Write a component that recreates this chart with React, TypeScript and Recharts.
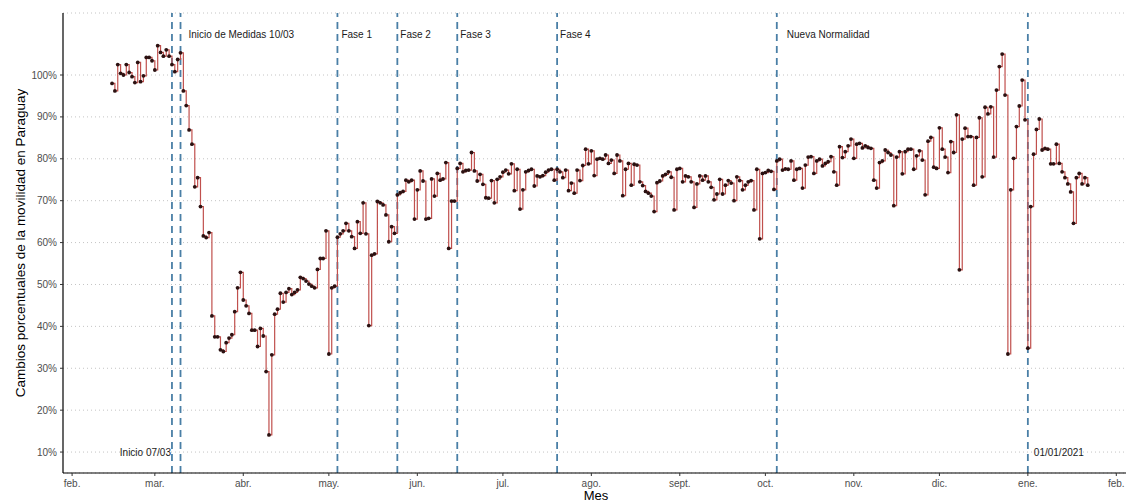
import React from 'react';
import { LineChart, Line, XAxis, YAxis, CartesianGrid, ReferenceLine } from 'recharts';

// daily mobility index (% of baseline), first value is 15 Feb 2020
const startDate = '2020-02-15';
const febValues = [98.0, 96.2, 102.5, 100.4, 100.0, 102.5, 100.6, 99.6, 98.2, 103.0, 98.4, 99.8, 104.2, 104.2, 103.4];
const marValues = [101.2, 107.0, 105.4, 104.5, 106.0, 104.5, 102.5, 100.8, 103.7, 105.3, 96.2, 92.7, 86.9, 83.5, 73.3, 75.5, 68.6, 61.6, 61.2, 62.4, 42.5, 37.5, 37.5, 34.4, 34.0, 36.1, 37.2, 38.0, 43.5, 49.2, 52.9];
const aprValues = [46.3, 44.9, 43.1, 39.1, 39.1, 35.2, 39.5, 37.7, 29.2, 14.1, 33.2, 42.9, 44.1, 47.9, 45.8, 48.1, 49.0, 47.6, 48.1, 48.7, 51.7, 51.4, 50.8, 50.1, 49.6, 49.2, 53.6, 56.2, 56.2, 62.8];
const mayValues = [33.4, 49.2, 49.6, 61.3, 62.1, 62.8, 64.6, 62.8, 61.4, 58.6, 65.0, 62.2, 69.5, 62.1, 40.2, 57.0, 57.3, 69.8, 69.5, 69.0, 66.6, 60.2, 63.8, 62.2, 71.4, 71.9, 72.2, 74.9, 74.5, 74.9, 65.6];
const junValues = [72.6, 77.1, 74.7, 65.6, 65.8, 75.2, 71.1, 76.5, 74.9, 75.2, 79.1, 58.6, 69.9, 69.9, 77.7, 78.9, 76.9, 77.2, 77.3, 81.5, 77.1, 74.7, 76.3, 73.9, 70.7, 70.6, 74.8, 69.5, 75.1, 75.7];
const julValues = [76.8, 77.3, 76.4, 78.8, 72.4, 77.5, 68.0, 72.6, 76.9, 77.2, 77.5, 73.5, 75.9, 75.7, 76.0, 76.8, 77.3, 77.5, 74.9, 77.5, 76.9, 75.5, 77.3, 72.4, 74.2, 71.8, 77.3, 74.8, 78.4, 82.3, 78.8];
const augValues = [81.9, 76.0, 79.9, 80.1, 79.9, 80.9, 78.9, 79.7, 76.5, 80.9, 79.5, 71.2, 77.5, 78.9, 73.7, 78.7, 78.5, 74.5, 73.6, 72.2, 71.8, 71.1, 67.4, 74.3, 74.7, 75.9, 76.3, 76.9, 75.6, 67.8, 77.5];
const sepValues = [77.7, 74.5, 75.9, 75.7, 74.5, 68.4, 74.0, 75.9, 74.9, 75.9, 74.5, 73.2, 70.2, 71.6, 75.1, 71.6, 73.7, 74.8, 74.2, 70.0, 75.7, 74.8, 72.6, 73.7, 74.5, 74.8, 67.8, 77.5, 60.9, 76.5];
const octValues = [76.7, 77.2, 77.0, 72.7, 79.5, 79.9, 77.3, 77.6, 77.5, 79.5, 74.9, 77.5, 77.7, 73.0, 78.5, 80.4, 80.5, 76.5, 79.5, 79.9, 78.3, 78.9, 79.3, 80.5, 76.9, 73.7, 82.9, 80.3, 81.7, 83.1, 84.7];
const novValues = [80.1, 83.5, 83.7, 82.6, 83.1, 82.7, 82.5, 74.9, 73.0, 79.1, 79.5, 82.1, 81.5, 80.9, 68.8, 80.4, 81.7, 76.4, 81.7, 82.3, 82.3, 77.5, 80.7, 81.9, 79.7, 71.4, 84.2, 85.1, 78.0, 77.7];
const decValues = [87.4, 82.3, 80.4, 76.7, 84.1, 81.5, 90.5, 53.5, 84.7, 87.3, 85.3, 85.3, 73.7, 85.1, 89.8, 75.7, 92.3, 90.7, 92.4, 80.4, 96.4, 102.0, 105.0, 95.2, 33.4, 72.6, 80.1, 87.7, 92.6, 98.8, 89.3];
const janValues = [34.8, 68.6, 81.1, 87.0, 89.5, 82.1, 82.5, 82.3, 78.8, 78.8, 83.5, 78.9, 76.9, 75.5, 74.0, 72.1, 64.6, 75.5, 76.5, 74.0, 75.5, 73.7];

const monthTicks = ['2020-02-01', '2020-03-01', '2020-04-01', '2020-05-01', '2020-06-01', '2020-07-01', '2020-08-01', '2020-09-01', '2020-10-01', '2020-11-01', '2020-12-01', '2021-01-01', '2021-02-01'];
const monthLabels = ['feb.', 'mar.', 'abr.', 'may.', 'jun.', 'jul.', 'ago.', 'sept.', 'oct.', 'nov.', 'dic.', 'ene.', 'feb.'];
const percentTicks = [10, 20, 30, 40, 50, 60, 70, 80, 90, 100];

const eventDates = ['2020-03-07', '2020-03-10', '2020-05-04', '2020-05-25', '2020-06-15', '2020-07-20', '2020-10-05', '2021-01-01'];
const eventLabels = ['Inicio 07/03', 'Inicio de Medidas 10/03', 'Fase 1', 'Fase 2', 'Fase 3', 'Fase 4', 'Nueva Normalidad', '01/01/2021'];

const FONT = '"Liberation Sans", Arial, sans-serif';
const origin = Date.UTC(2020, 1, 1);
const dayOf = (iso: string) => Math.round((Date.parse(iso + 'T00:00:00Z') - origin) / 86400000);

const values = [
  ...febValues, ...marValues, ...aprValues, ...mayValues, ...junValues, ...julValues,
  ...augValues, ...sepValues, ...octValues, ...novValues, ...decValues, ...janValues,
];
const firstDay = dayOf(startDate);
const data = values.map((v, i) => ({ day: firstDay + i, value: v }));
const tickDays = monthTicks.map(dayOf);

// label placement per event line: [dx from line, anchor, at bottom?]
const labelPlacement: Array<[number, 'start' | 'end', boolean]> = [
  [-1, 'end', true],
  [8, 'start', false],
  [4, 'start', false],
  [3, 'start', false],
  [3, 'start', false],
  [3, 'start', false],
  [10, 'start', false],
  [6, 'start', true],
];

const eventLabel = (text: string, idx: number) => (props: any) => {
  const vb = props.viewBox || {};
  const [dx, anchor, bottom] = labelPlacement[idx];
  return (
    <text
      x={(vb.x || 0) + dx}
      y={bottom ? 456 : 38}
      textAnchor={anchor}
      fontSize={10}
      fontFamily={FONT}
      fill="#1a1a1a"
    >
      {text}
    </text>
  );
};

export default function App() {
  return (
    <div style={{ position: 'absolute', left: 0, top: 0, width: 1131, height: 503, background: '#fff' }}>
      <LineChart width={1131} height={503} data={data} margin={{ top: 13, right: 5, bottom: 0, left: 0 }}>
        <CartesianGrid vertical={false} stroke="#c4c4c4" strokeDasharray="1 3" />
        <XAxis
          type="number"
          dataKey="day"
          domain={[-3.19, 369.4]}
          ticks={tickDays}
          allowDataOverflow
          height={30}
          tickSize={3}
          tickMargin={4}
          tickFormatter={(d: number) => monthLabels[tickDays.indexOf(d)] ?? ''}
          tick={{ fontSize: 10, fill: '#4d4d4d', fontFamily: FONT }}
          axisLine={{ stroke: '#000', strokeWidth: 1.2 }}
          tickLine={{ stroke: '#333' }}
        />
        <YAxis
          type="number"
          domain={[5, 114.8]}
          ticks={percentTicks}
          allowDataOverflow
          width={63}
          tickSize={3}
          tickMargin={3}
          tickFormatter={(v: number) => `${v}%`}
          tick={{ fontSize: 10, fill: '#4d4d4d', fontFamily: FONT }}
          axisLine={{ stroke: '#000', strokeWidth: 1.2 }}
          tickLine={{ stroke: '#333' }}
        />
        {eventDates.map((d, i) => (
          <ReferenceLine
            key={d}
            x={dayOf(d)}
            stroke="#4a7fa6"
            strokeWidth={1.8}
            strokeDasharray="7 5"
            label={eventLabel(eventLabels[i], i)}
          />
        ))}
        <Line
          type="stepAfter"
          dataKey="value"
          stroke="#c0504d"
          strokeWidth={1.2}
          dot={{ r: 1.9, fill: '#2b1111', stroke: '#2b1111', strokeWidth: 0 }}
          isAnimationActive={false}
        />
      </LineChart>
      <div
        style={{
          position: 'absolute', left: 20, top: 243, width: 0, height: 0,
        }}
      >
        <div
          style={{
            position: 'absolute', left: 0, top: 0, transform: 'translate(-50%, -50%) rotate(-90deg)',
            whiteSpace: 'nowrap', fontSize: 13.5, fontFamily: FONT, color: '#000',
          }}
        >
          Cambios porcentuales de la movilidad en Paraguay
        </div>
      </div>
      <div
        style={{
          position: 'absolute', left: 596, top: 496, transform: 'translate(-50%, -50%)',
          fontSize: 13, lineHeight: '14px', fontFamily: FONT, color: '#000', whiteSpace: 'nowrap',
        }}
      >
        Mes
      </div>
    </div>
  );
}
